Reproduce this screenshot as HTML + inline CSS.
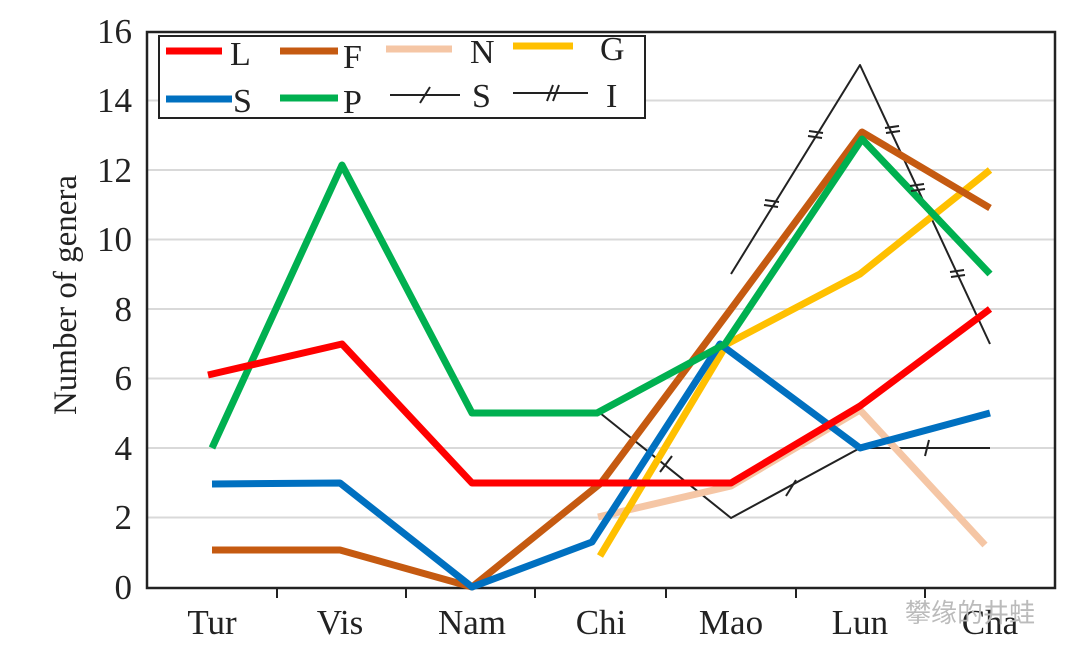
<!DOCTYPE html>
<html><head><style>body{margin:0;background:#fff}svg{display:block}</style></head><body>
<svg width="1080" height="661" xmlns="http://www.w3.org/2000/svg" font-family="Liberation Serif, serif">
<g stroke="#d9d9d9" stroke-width="2">
<line x1="148" x2="1055" y1="517.5" y2="517.5"/><line x1="148" x2="1055" y1="448" y2="448"/>
<line x1="148" x2="1055" y1="378.5" y2="378.5"/><line x1="148" x2="1055" y1="309" y2="309"/>
<line x1="148" x2="1055" y1="239.5" y2="239.5"/><line x1="148" x2="1055" y1="170" y2="170"/>
<line x1="148" x2="1055" y1="100.5" y2="100.5"/>
</g>
<rect x="147" y="32" width="908" height="556" fill="none" stroke="#222" stroke-width="2.5"/>
<g stroke="#222" stroke-width="2">
<line x1="277" x2="277" y1="588" y2="598"/><line x1="406" x2="406" y1="588" y2="598"/>
<line x1="535" x2="535" y1="588" y2="598"/><line x1="666" x2="666" y1="588" y2="598"/>
<line x1="796" x2="796" y1="588" y2="598"/><line x1="925" x2="925" y1="588" y2="598"/>
</g>
<g font-size="35" fill="#222" text-anchor="end">
<text x="132" y="599">0</text><text x="132" y="529">2</text><text x="132" y="460">4</text>
<text x="132" y="390">6</text><text x="132" y="321">8</text><text x="132" y="251">10</text>
<text x="132" y="182">12</text><text x="132" y="112">14</text><text x="132" y="43">16</text>
</g>
<g font-size="35" fill="#222" text-anchor="middle">
<text x="212" y="634">Tur</text><text x="340" y="634">Vis</text><text x="472" y="634">Nam</text>
<text x="601" y="634">Chi</text><text x="731" y="634">Mao</text><text x="860" y="634">Lun</text><text x="990" y="634">Cha</text>
</g>
<text transform="translate(76,295) rotate(-90)" font-size="33" fill="#222" text-anchor="middle">Number of genera</text>
<g fill="none" stroke-linejoin="round">
<polyline stroke="#222" stroke-width="2" points="600,413 731,518 860,448 990,448"/>
<polyline stroke="#222" stroke-width="2" points="731,274 860,65 990,344"/>
<polyline stroke="#f5c6a5" stroke-width="7" points="598,517 731,486 860,410 985,545"/>
<polyline stroke="#ffc000" stroke-width="7" points="600,556 727,344 860,274 990,170"/>
<polyline stroke="#c55a11" stroke-width="7" points="212,550 340,550 472,587 601,483 731,309 862,132 990,208"/>
<polyline stroke="#0070c0" stroke-width="7" points="212,484 340,483 472,587 592,542 720,344 860,448 990,413"/>
<polyline stroke="#00b050" stroke-width="7" points="212,448 342,165 472,413 597,413 725,344 862,139 990,274"/>
<polyline stroke="#ff0000" stroke-width="7" points="208,375 342,344 472,483 601,483 731,483 860,406 990,309"/>
</g>
<g stroke="#222" stroke-width="2">
<line x1="660" y1="472" x2="672" y2="456"/><line x1="786" y1="496" x2="796" y2="480"/><line x1="925" y1="456" x2="929" y2="440"/>
<line x1="764" y1="205" x2="778" y2="207"/><line x1="765" y1="200" x2="779" y2="202"/>
<line x1="808" y1="136" x2="822" y2="138"/><line x1="809" y1="131" x2="823" y2="133"/>
<line x1="885" y1="128" x2="899" y2="126"/><line x1="886" y1="133" x2="900" y2="131"/>
<line x1="910" y1="186" x2="924" y2="184"/><line x1="911" y1="191" x2="925" y2="189"/>
<line x1="950" y1="272" x2="964" y2="270"/><line x1="951" y1="277" x2="965" y2="275"/>
</g>
<rect x="159" y="36" width="486" height="82" fill="#fff" stroke="#222" stroke-width="2"/>
<g stroke-width="7">
<line x1="166" x2="222" y1="51" y2="51" stroke="#ff0000"/><line x1="280" x2="338" y1="51" y2="51" stroke="#c55a11"/>
<line x1="386" x2="452" y1="49" y2="49" stroke="#f5c6a5"/><line x1="513" x2="573" y1="46" y2="46" stroke="#ffc000"/>
<line x1="166" x2="232" y1="99" y2="99" stroke="#0070c0"/><line x1="280" x2="338" y1="98" y2="98" stroke="#00b050"/>
</g>
<g stroke="#222" stroke-width="2">
<line x1="390" x2="460" y1="95" y2="95"/><line x1="420" y1="103" x2="430" y2="87"/>
<line x1="513" x2="588" y1="93" y2="93"/><line x1="547" y1="101" x2="553" y2="85"/><line x1="553" y1="101" x2="559" y2="85"/>
</g>
<g font-size="34" fill="#222">
<text x="230" y="65">L</text><text x="343" y="68">F</text><text x="470" y="63">N</text><text x="600" y="60">G</text>
<text x="233" y="112">S</text><text x="343" y="113">P</text><text x="472" y="107">S</text><text x="606" y="107">I</text>
</g>
<text x="905" y="622" font-size="26" fill="#bbb" font-family="Liberation Sans, Noto Sans CJK SC, sans-serif">攀缘的井蛙</text>
</svg>
</body></html>
